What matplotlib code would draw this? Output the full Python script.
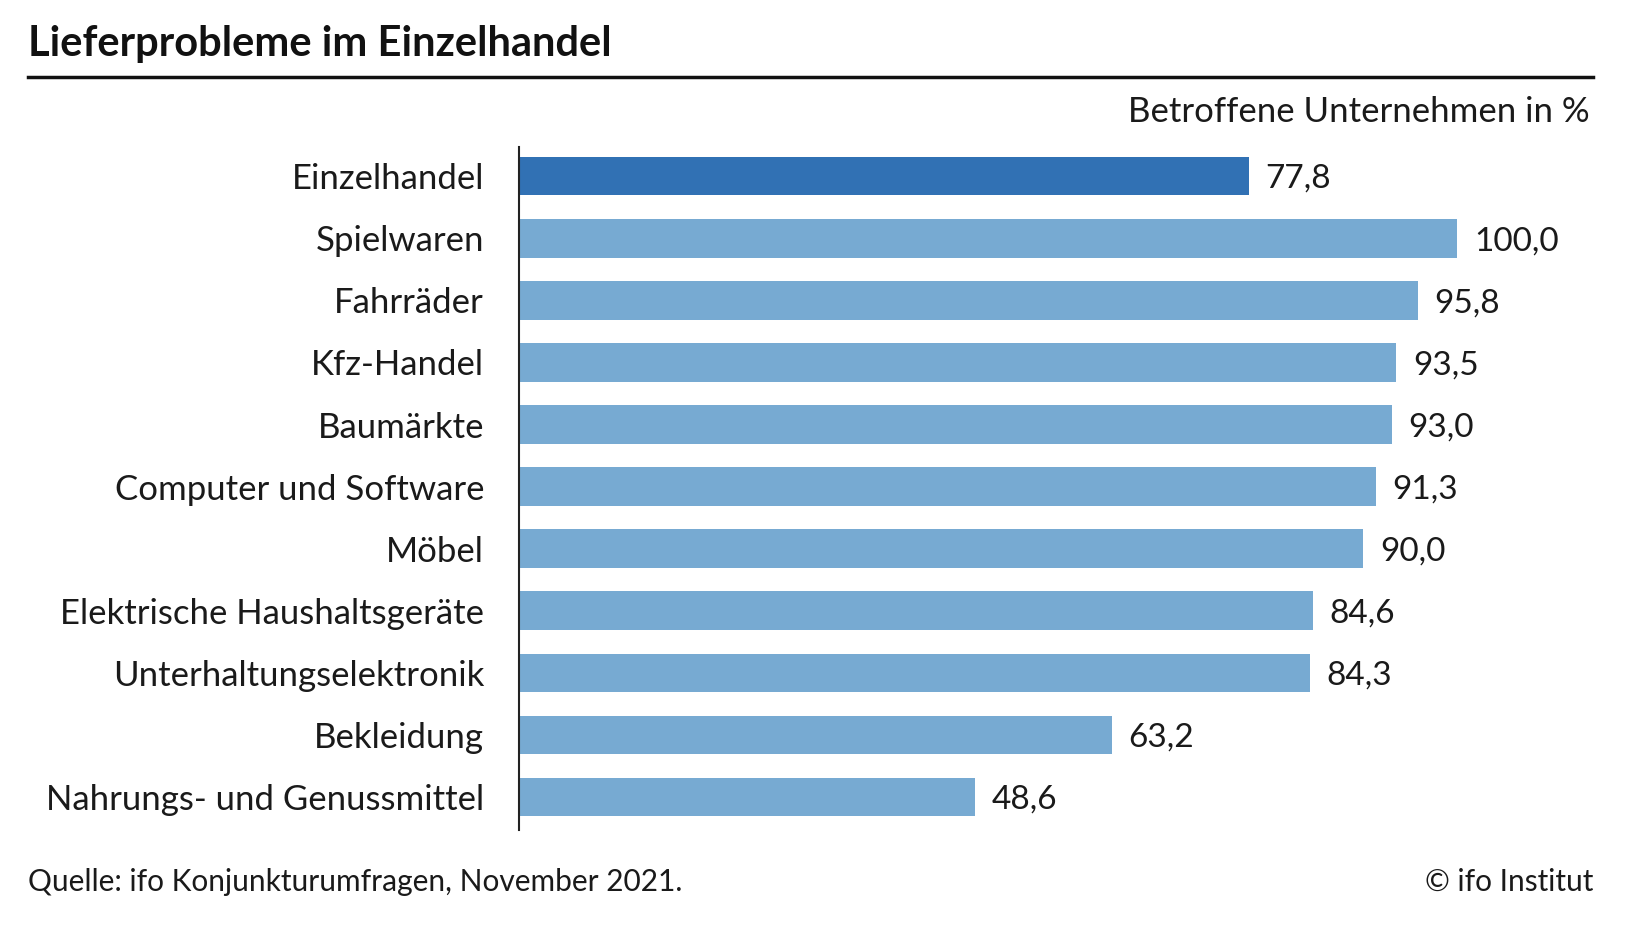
import matplotlib.pyplot as plt
from matplotlib.lines import Line2D

categories = ["Einzelhandel", "Spielwaren", "Fahrräder", "Kfz-Handel", "Baumärkte",
              "Computer und Software", "Möbel", "Elektrische Haushaltsgeräte",
              "Unterhaltungselektronik", "Bekleidung", "Nahrungs- und Genussmittel"]
values = [77.8, 100.0, 95.8, 93.5, 93.0, 91.3, 90.0, 84.6, 84.3, 63.2, 48.6]
value_labels = ["77,8", "100,0", "95,8", "93,5", "93,0", "91,3", "90,0", "84,6", "84,3", "63,2", "48,6"]

DARK = "#3171b4"
LIGHT = "#77aad2"

plt.rcParams['font.family'] = ['Lato', 'DejaVu Sans']

fig = plt.figure(figsize=(16.38, 9.33), dpi=100)
ax = fig.add_axes([0.3167, 0.1099, 0.573, 0.7325])

ypos = list(range(len(categories)))
colors = [DARK] + [LIGHT] * (len(categories) - 1)
ax.barh(ypos, values, height=0.62, color=colors)

for y, v, lab in zip(ypos, values, value_labels):
    ax.annotate(lab, (v, y), xytext=(12, -2), textcoords="offset points",
                va="center", ha="left", fontsize=24, color="#1a1a1a", annotation_clip=False)

ax.set_xlim(0, 100)
ax.set_ylim(10.54, -0.47)
ax.set_yticks(ypos)
ax.set_yticklabels(categories, fontsize=25, color="#1a1a1a")
ax.tick_params(axis="y", length=0, pad=25)
ax.set_xticks([])
for side in ["top", "right", "bottom"]:
    ax.spines[side].set_visible(False)
ax.spines["left"].set_linewidth(1.5)
ax.spines["left"].set_color("#222222")

fig.text(0.0173, 0.953, "Lieferprobleme im Einzelhandel", fontsize=30, fontweight="bold",
         ha="left", va="center", color="#111111")
fig.add_artist(Line2D([0.0173, 0.9725], [0.9177, 0.9177], transform=fig.transFigure,
                      color="#111111", linewidth=2.5))
fig.text(0.9705, 0.88, "Betroffene Unternehmen in %", fontsize=25, ha="right", va="center",
         color="#1a1a1a")
fig.text(0.0173, 0.0547, "Quelle: ifo Konjunkturumfragen, November 2021.", fontsize=21.5,
         ha="left", va="center", color="#1a1a1a")
fig.text(0.9725, 0.0547, "© ifo Institut", fontsize=21.5, ha="right", va="center", color="#1a1a1a")

fig.savefig("out.png", dpi=100, facecolor="white")
